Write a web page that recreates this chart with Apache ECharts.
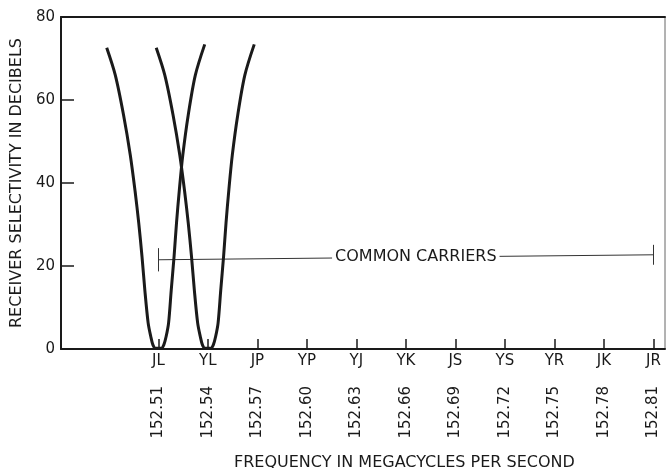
<!DOCTYPE html>
<html>
<head>
<meta charset="utf-8">
<script src="https://cdn.jsdelivr.net/npm/echarts/dist/echarts.min.js"></script>
<style>
  html, body { margin: 0; padding: 0; background: #fff; }
  #chart { width: 666px; height: 468px; }
</style>
</head>
<body>
<div id="chart"></div>
<script>
// channel codes and their frequencies (Mc)
const channels = ['JL', 'YL', 'JP', 'YP', 'YJ', 'YK', 'JS', 'YS', 'YR', 'JK', 'JR']
const freqs = [152.51, 152.54, 152.57, 152.60, 152.63, 152.66, 152.69, 152.72, 152.75, 152.78, 152.81]
const freqLabels = ['152.51', '152.54', '152.57', '152.60', '152.63', '152.66', '152.69', '152.72', '152.75', '152.78', '152.81']

// selectivity curves
const curveDb = [72.6, 66.0, 56.4, 46.7, 38.0, 30.4, 22.2, 14.2, 6.3, 3.0, 1.0, 0.2,
  0.2, 1.0, 3.0, 6.3, 14.2, 22.2, 30.4, 38.3, 46.7, 56.4, 66.0, 73.4]
const jlFreq = [152.4787, 152.4839, 152.4889, 152.4930, 152.4959, 152.4981, 152.5001, 152.5018, 152.5038,
  152.5054, 152.5067, 152.5082, 152.5118, 152.5133, 152.5147, 152.5162, 152.5178, 152.5195, 152.5210,
  152.5227, 152.5248, 152.5281, 152.5324, 152.5381]
const ylFreq = [152.5087, 152.5139, 152.5189, 152.5230, 152.5259, 152.5281, 152.5301, 152.5318, 152.5338,
  152.5354, 152.5367, 152.5382, 152.5418, 152.5433, 152.5447, 152.5462, 152.5478, 152.5495, 152.5510,
  152.5527, 152.5548, 152.5581, 152.5624, 152.5681]

// common carriers band and its label
const carrierFreq = [152.51, 152.81]
const carrierDb = [21.5, 22.7]
const carrierLabelAt = [152.666, 22.2]

const ink = '#1a1a1a'
const font = 'DejaVu Sans'

function pairs(xs, ys) {
  return xs.map((x, i) => [x, ys[i]])
}

function channelIndex(v) {
  let best = 0
  freqs.forEach((f, i) => {
    if (Math.abs(f - v) < Math.abs(freqs[best] - v)) best = i
  })
  return best
}

const chart = echarts.init(document.getElementById('chart'))

const curveStyle = {
  type: 'line',
  smooth: 0.3,
  showSymbol: false,
  symbol: 'none',
  clip: false,
  lineStyle: { color: ink, width: 3 },
  silent: true,
  z: 3
}

chart.setOption({
  animation: false,
  title: {
    text: 'FREQUENCY IN MEGACYCLES PER SECOND',
    left: 234,
    top: 455,
    padding: 0,
    textStyle: { fontFamily: font, fontSize: 16, fontWeight: 'normal', color: ink }
  },
  grid: {
    left: 61,
    right: 1,
    top: 17,
    bottom: 119,
    show: true,
    borderColor: '#666',
    borderWidth: 1
  },
  xAxis: [{
    type: 'value',
    min: 152.451,
    max: 152.817,
    axisLine: { lineStyle: { color: ink, width: 2 } },
    axisTick: { inside: true, length: 10, lineStyle: { color: ink, width: 1.5 }, customValues: freqs },
    axisLabel: {
      customValues: freqs,
      margin: 5,
      fontFamily: font,
      fontSize: 15,
      color: ink,
      formatter: v => channels[channelIndex(v)]
    },
    splitLine: { show: false }
  }, {
    type: 'value',
    position: 'bottom',
    min: 152.451,
    max: 152.817,
    axisLine: { show: false },
    axisTick: { show: false },
    axisLabel: {
      customValues: freqs,
      rotate: 90,
      margin: 37,
      fontFamily: font,
      fontSize: 15,
      color: ink,
      formatter: v => freqLabels[channelIndex(v)]
    },
    splitLine: { show: false }
  }, {
    type: 'value',
    position: 'top',
    min: 152.451,
    max: 152.817,
    axisLine: { lineStyle: { color: ink, width: 2 } },
    axisTick: { show: false },
    axisLabel: { show: false },
    splitLine: { show: false }
  }],
  yAxis: {
    type: 'value',
    min: 0,
    max: 80,
    interval: 20,
    name: 'RECEIVER SELECTIVITY IN DECIBELS',
    nameLocation: 'middle',
    nameGap: 34,
    nameTextStyle: { fontFamily: font, fontSize: 16, color: ink },
    axisLine: { show: true, lineStyle: { color: ink, width: 2 } },
    axisTick: { inside: true, length: 13, lineStyle: { color: ink, width: 1.5 } },
    axisLabel: { margin: 6, fontFamily: font, fontSize: 15, color: ink },
    splitLine: { show: false }
  },
  series: [
    Object.assign({}, curveStyle, {
      name: 'JL',
      data: pairs(jlFreq, curveDb),
      markLine: {
        silent: true,
        symbol: 'none',
        animation: false,
        z: 1,
        lineStyle: { color: '#333', width: 1, type: 'solid' },
        label: { show: false },
        data: [
          [{ coord: [carrierFreq[0], carrierDb[0]] }, { coord: [carrierFreq[1], carrierDb[1]] }],
          [{ coord: [carrierFreq[0], carrierDb[0] - 2.8] }, { coord: [carrierFreq[0], carrierDb[0] + 2.8] }],
          [{ coord: [carrierFreq[1], carrierDb[1] - 2.4] }, { coord: [carrierFreq[1], carrierDb[1] + 2.4] }]
        ]
      },
      markPoint: {
        silent: true,
        symbol: 'rect',
        symbolSize: 0,
        animation: false,
        z: 2,
        label: {
          show: true,
          position: 'inside',
          formatter: 'COMMON CARRIERS',
          fontFamily: font,
          fontSize: 16,
          color: ink,
          backgroundColor: '#fff',
          padding: [1, 3]
        },
        data: [{ coord: carrierLabelAt }]
      }
    }),
    Object.assign({}, curveStyle, {
      name: 'YL',
      data: pairs(ylFreq, curveDb)
    })
  ]
})
</script>
</body>
</html>
